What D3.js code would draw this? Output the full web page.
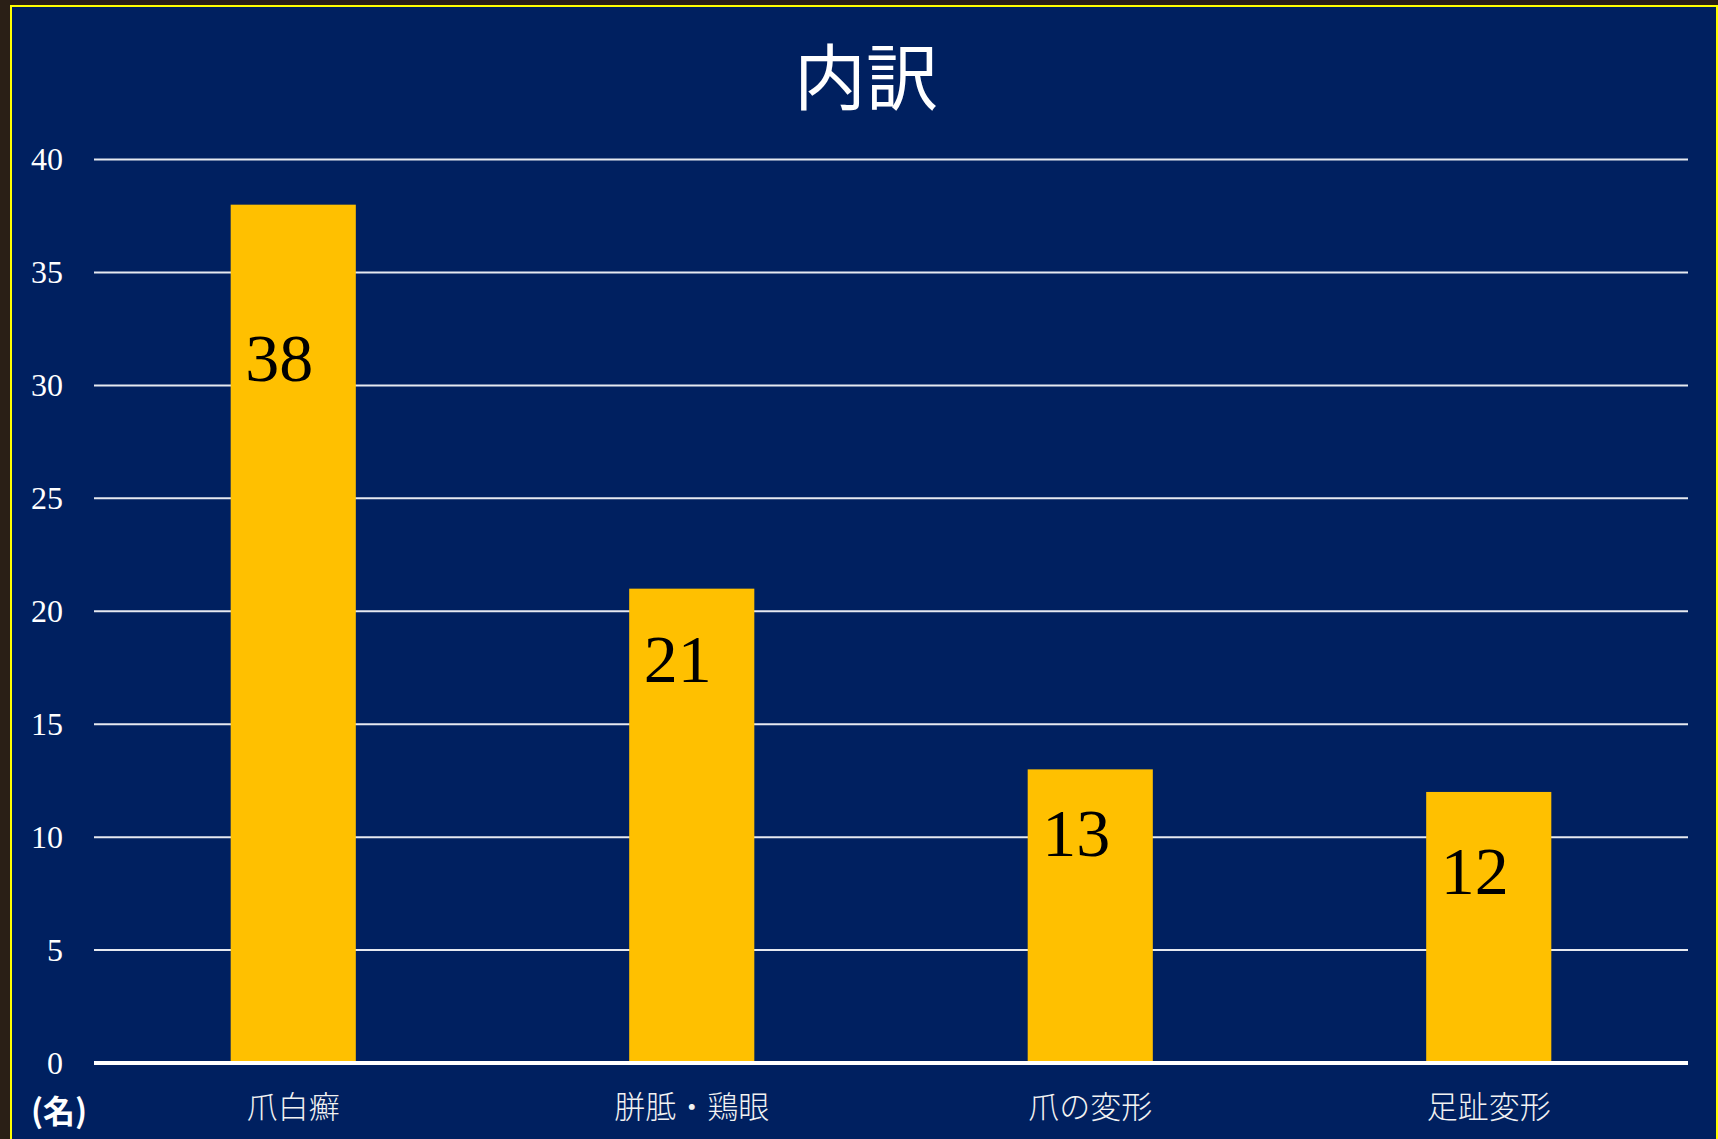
<!DOCTYPE html>
<html>
<head>
<meta charset="utf-8">
<script src="https://cdn.jsdelivr.net/npm/d3@7"></script>
<style>
  html, body { margin: 0; padding: 0; background: #2a1f16; }
  svg { display: block; }
</style>
</head>
<body>
<div id="chart"></div>
<script>
var categories = ["爪白癬", "胼胝・鶏眼", "爪の変形", "足趾変形"];
var counts = [38, 21, 13, 12];
var yTicks = [0, 5, 10, 15, 20, 25, 30, 35, 40];
// where each value label sits, in data units
var labelAt = [31.2, 17.9, 10.2, 8.5];

var svgWidth = 1718;
var svgHeight = 1139;

var margin = { top: 159.5, right: 30, bottom: 76, left: 94 };
var width = svgWidth - margin.left - margin.right;
var height = svgHeight - margin.top - margin.bottom;

var svg = d3.select("#chart")
  .append("svg")
  .attr("width", svgWidth)
  .attr("height", svgHeight);

// dark frame outside the slide
svg.append("rect")
  .attr("width", svgWidth)
  .attr("height", svgHeight)
  .attr("fill", "#2a1f16");

svg.append("rect")
  .attr("x", 11)
  .attr("y", 6)
  .attr("width", 1706)
  .attr("height", svgHeight)
  .attr("fill", "#002060")
  .attr("stroke", "#ffff00")
  .attr("stroke-width", 2);

svg.append("text")
  .attr("x", 866)
  .attr("y", 72)
  .attr("text-anchor", "middle")
  .attr("dominant-baseline", "central")
  .attr("font-family", "'Noto Sans CJK JP', sans-serif")
  .attr("font-size", "72px")
  .attr("fill", "white")
  .text("内訳");

var chartGroup = svg.append("g")
  .attr("transform", `translate(${margin.left}, ${margin.top})`);

var xBandScale = d3.scaleBand()
  .domain(categories)
  .range([0, width])
  .paddingInner(0.686)
  .paddingOuter(0.343);

var yLinearScale = d3.scaleLinear()
  .domain([0, 40])
  .range([height, 0]);

// gridlines
chartGroup.selectAll(".grid")
  .data(yTicks.filter(d => d > 0))
  .enter()
  .append("line")
  .attr("x1", 0)
  .attr("x2", width)
  .attr("y1", d => yLinearScale(d))
  .attr("y2", d => yLinearScale(d))
  .attr("stroke", "#e6e9f0")
  .attr("stroke-width", 2);

var leftAxis = d3.axisLeft(yLinearScale)
  .tickValues(yTicks)
  .tickSize(0)
  .tickPadding(31);

var yAxisGroup = chartGroup.append("g").call(leftAxis);
yAxisGroup.select(".domain").remove();
yAxisGroup.selectAll("text")
  .attr("font-family", "'Liberation Serif', serif")
  .attr("font-size", "32px")
  .attr("fill", "white");

chartGroup.selectAll(".bar")
  .data(counts)
  .enter()
  .append("rect")
  .attr("x", (d, i) => xBandScale(categories[i]))
  .attr("y", d => yLinearScale(d))
  .attr("width", xBandScale.bandwidth())
  .attr("height", d => height - yLinearScale(d))
  .attr("fill", "#ffc000");

// baseline
chartGroup.append("line")
  .attr("x1", 0)
  .attr("x2", width)
  .attr("y1", height)
  .attr("y2", height)
  .attr("stroke", "white")
  .attr("stroke-width", 4);

chartGroup.selectAll(".value")
  .data(counts)
  .enter()
  .append("text")
  .attr("x", (d, i) => xBandScale(categories[i]) + xBandScale.bandwidth() / 2 - 14)
  .attr("y", (d, i) => yLinearScale(labelAt[i]))
  .attr("dy", "0.34em")
  .attr("text-anchor", "middle")
  .attr("font-family", "'Liberation Serif', serif")
  .attr("font-size", "68px")
  .attr("fill", "black")
  .text(d => d);

var bottomAxis = d3.axisBottom(xBandScale)
  .tickSize(0)
  .tickPadding(33);

var xAxisGroup = chartGroup.append("g")
  .attr("transform", `translate(0, ${height})`)
  .call(bottomAxis);
xAxisGroup.select(".domain").remove();
xAxisGroup.selectAll("text")
  .attr("font-family", "'Noto Sans CJK JP', sans-serif")
  .attr("font-size", "31px")
  .attr("font-weight", 300)
  .attr("fill", "#f2f2f2");

svg.append("text")
  .attr("x", 31)
  .attr("y", 1109)
  .attr("dominant-baseline", "central")
  .attr("font-family", "'Noto Sans CJK JP', sans-serif")
  .attr("font-size", "32px")
  .attr("font-weight", "bold")
  .attr("fill", "white")
  .text("(名)");
</script>
</body>
</html>
